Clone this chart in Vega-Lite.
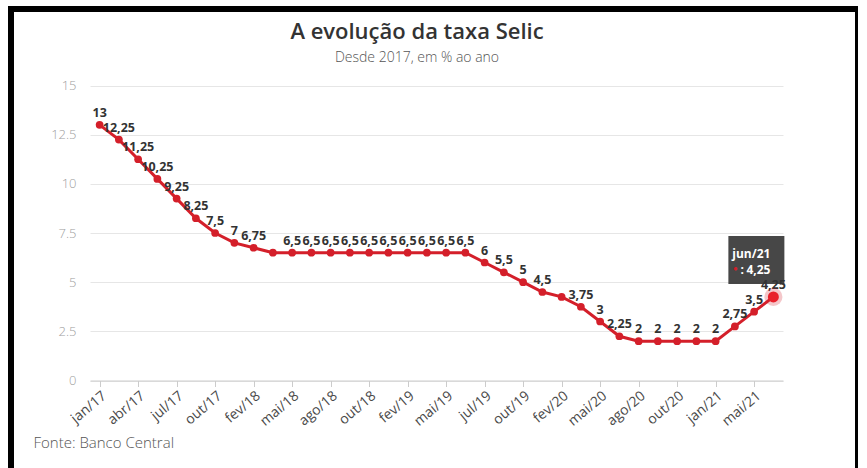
{
  "$schema": "https://vega.github.io/schema/vega-lite/v6.json",
  "width": 847,
  "height": 470,
  "autosize": {"type": "none"},
  "padding": {"left": 11, "top": 9, "right": 0, "bottom": 0},
  "background": "white",
  "config": {
    "font": "Open Sans",
    "view": {"stroke": "#000000", "strokeWidth": 6, "fill": "white"}
  },
  "title": {
    "text": "A evolução da taxa Selic",
    "subtitle": "Desde 2017, em % ao ano",
    "anchor": "middle",
    "frame": "group",
    "dx": -17.5,
    "offset": -57,
    "font": "Open Sans",
    "fontSize": 22,
    "fontWeight": 600,
    "color": "#333333",
    "subtitleFont": "Open Sans",
    "subtitleFontSize": 14,
    "subtitleFontWeight": 300,
    "subtitleColor": "#555555",
    "subtitlePadding": 7
  },
  "data": {
    "values": [
      {"mes": "jan/17", "valor": 13, "rotulo": "13"},
      {"mes": "fev/17", "valor": 12.25, "rotulo": "12,25"},
      {"mes": "abr/17", "valor": 11.25, "rotulo": "11,25"},
      {"mes": "mai/17", "valor": 10.25, "rotulo": "10,25"},
      {"mes": "jul/17", "valor": 9.25, "rotulo": "9,25"},
      {"mes": "set/17", "valor": 8.25, "rotulo": "8,25"},
      {"mes": "out/17", "valor": 7.5, "rotulo": "7,5"},
      {"mes": "dez/17", "valor": 7, "rotulo": "7"},
      {"mes": "fev/18", "valor": 6.75, "rotulo": "6,75"},
      {"mes": "mar/18", "valor": 6.5, "rotulo": ""},
      {"mes": "mai/18", "valor": 6.5, "rotulo": "6,5"},
      {"mes": "jun/18", "valor": 6.5, "rotulo": "6,5"},
      {"mes": "ago/18", "valor": 6.5, "rotulo": "6,5"},
      {"mes": "set/18", "valor": 6.5, "rotulo": "6,5"},
      {"mes": "out/18", "valor": 6.5, "rotulo": "6,5"},
      {"mes": "dez/18", "valor": 6.5, "rotulo": "6,5"},
      {"mes": "fev/19", "valor": 6.5, "rotulo": "6,5"},
      {"mes": "mar/19", "valor": 6.5, "rotulo": "6,5"},
      {"mes": "mai/19", "valor": 6.5, "rotulo": "6,5"},
      {"mes": "jun/19", "valor": 6.5, "rotulo": "6,5"},
      {"mes": "jul/19", "valor": 6, "rotulo": "6"},
      {"mes": "set/19", "valor": 5.5, "rotulo": "5,5"},
      {"mes": "out/19", "valor": 5, "rotulo": "5"},
      {"mes": "dez/19", "valor": 4.5, "rotulo": "4,5"},
      {"mes": "fev/20", "valor": 4.25, "rotulo": ""},
      {"mes": "mar/20", "valor": 3.75, "rotulo": "3,75"},
      {"mes": "mai/20", "valor": 3, "rotulo": "3"},
      {"mes": "jun/20", "valor": 2.25, "rotulo": "2,25"},
      {"mes": "ago/20", "valor": 2, "rotulo": "2"},
      {"mes": "set/20", "valor": 2, "rotulo": "2"},
      {"mes": "out/20", "valor": 2, "rotulo": "2"},
      {"mes": "dez/20", "valor": 2, "rotulo": "2"},
      {"mes": "jan/21", "valor": 2, "rotulo": "2"},
      {"mes": "mar/21", "valor": 2.75, "rotulo": "2,75"},
      {"mes": "mai/21", "valor": 3.5, "rotulo": "3,5"},
      {"mes": "jun/21", "valor": 4.25, "rotulo": "4,25"}
    ]
  },
  "encoding": {
    "x": {
      "field": "mes",
      "type": "ordinal",
      "sort": null,
      "scale": {"type": "point", "range": [79, 772], "padding": 0.5},
      "axis": {
        "values": ["jan/17", "abr/17", "jul/17", "out/17", "fev/18", "mai/18", "ago/18", "out/18", "fev/19", "mai/19", "jul/19", "out/19", "fev/20", "mai/20", "ago/20", "out/20", "jan/21", "mai/21"],
        "offset": -98.5,
        "grid": false,
        "labelAngle": -40,
        "labelFontSize": 14,
        "labelColor": "#4a4a4a",
        "labelPadding": 2,
        "domainColor": "#cccccc",
        "tickColor": "#cccccc",
        "tickSize": 6,
        "title": "Fonte: Banco Central",
        "titleX": 22,
        "titleY": 66.5,
        "titleAlign": "left",
        "titleAnchor": "start",
        "titleBaseline": "alphabetic",
        "titleFontSize": 15,
        "titleFontWeight": 300,
        "titleColor": "#555555"
      }
    },
    "y": {
      "field": "valor",
      "type": "quantitative",
      "scale": {"domain": [0, 15], "range": [371.5, 76.5], "nice": false},
      "axis": {
        "values": [0, 2.5, 5, 7.5, 10, 12.5, 15],
        "format": ".1~f",
        "title": null,
        "offset": -79,
        "domain": false,
        "ticks": false,
        "labelPadding": 14,
        "labelColor": "#a0a0a0",
        "labelFontSize": 13,
        "labelFontWeight": 300,
        "grid": true,
        "gridColor": "#e6e6e6"
      }
    }
  },
  "layer": [
    {"mark": {"type": "line", "color": "#d41f2a", "strokeWidth": 3}},
    {"mark": {"type": "point", "filled": true, "color": "#d41f2a", "size": 60, "opacity": 1}},
    {
      "mark": {"type": "text", "fontWeight": "bold", "fontSize": 12.5, "color": "#333333", "baseline": "alphabetic", "dy": -8},
      "encoding": {"text": {"field": "rotulo"}}
    },
    {
      "transform": [{"filter": "datum.mes === 'jun/21'"}],
      "mark": {"type": "point", "filled": true, "color": "#d41f2a", "opacity": 0.25, "size": 330}
    },
    {
      "transform": [{"filter": "datum.mes === 'jun/21'"}],
      "mark": {"type": "point", "filled": true, "color": "#e8212b", "opacity": 1, "size": 120}
    },
    {
      "transform": [{"filter": "datum.mes === 'jun/21'"}],
      "mark": {"type": "point", "shape": "M-1,-0.857L1,-0.857L1,0.857L-1,0.857Z", "filled": true, "color": "#333333", "opacity": 0.9, "size": 3136, "xOffset": -17, "yOffset": -37}
    },
    {
      "transform": [{"filter": "datum.mes === 'jun/21'"}],
      "mark": {"type": "text", "color": "white", "fontWeight": "bold", "fontSize": 12, "baseline": "alphabetic", "dx": -22, "dy": -39},
      "encoding": {"text": {"field": "mes"}}
    },
    {
      "transform": [{"filter": "datum.mes === 'jun/21'"}],
      "mark": {"type": "text", "color": "#d41f2a", "fontSize": 8, "baseline": "middle", "dx": -38, "dy": -28},
      "encoding": {"text": {"value": "●"}}
    },
    {
      "transform": [{"filter": "datum.mes === 'jun/21'"}],
      "mark": {"type": "text", "color": "white", "fontWeight": "bold", "fontSize": 12, "baseline": "alphabetic", "align": "left", "dx": -33, "dy": -23},
      "encoding": {"text": {"value": ":"}}
    },
    {
      "transform": [{"filter": "datum.mes === 'jun/21'"}],
      "mark": {"type": "text", "color": "white", "fontWeight": "bold", "fontSize": 12, "baseline": "alphabetic", "align": "left", "dx": -27, "dy": -23},
      "encoding": {"text": {"field": "rotulo"}}
    }
  ]
}
